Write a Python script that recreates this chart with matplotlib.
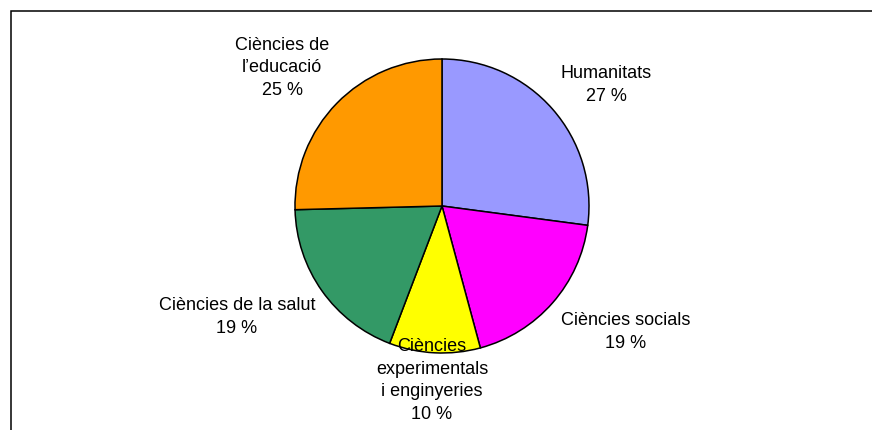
import matplotlib
matplotlib.use("Agg")
import matplotlib.pyplot as plt
from matplotlib.patches import Rectangle

plt.rcParams['font.family'] = ['Liberation Sans', 'DejaVu Sans']

# data (wedge shares; labels show them rounded)
areas = ["Humanitats", "Ciències socials", "Ciències\nexperimentals\ni enginyeries",
         "Ciències de la salut", "Ciències de\nl\u2019educació"]
shares = [27.1, 18.7, 10.0, 18.8, 25.4]
colors = ["#9999FF", "#FF00FF", "#FFFF00", "#339966", "#FF9900"]

# label anchor (pixel x of centre, pixel y of last baseline)
label_px = [(606, 101), (626, 348), (432, 419), (237, 333), (282, 95)]

W, H = 872, 430
fig = plt.figure(figsize=(W / 100, H / 100), dpi=100)

# outer frame (clipped on right and bottom like the original)
fig.patches.append(Rectangle((11 / W, -0.1), 1.2, (H - 11) / H + 0.1,
                             transform=fig.transFigure, fill=False,
                             edgecolor="black", linewidth=1.1))

cx, cy, r = 442, 206, 147
ax = fig.add_axes([(cx - r) / W, (H - cy - r) / H, 2 * r / W, 2 * r / H])
ax.pie(shares, colors=colors, startangle=90, counterclock=False,
       wedgeprops=dict(edgecolor="black", linewidth=1.1))
ax.set_xlim(-1, 1)
ax.set_ylim(-1, 1)
ax.axis("off")

for name, val, (x, y) in zip(areas, shares, label_px):
    fig.text(x / W, 1 - y / H, f"{name}\n{val:.0f} %", ha="center", va="baseline",
             multialignment="center", fontsize=13, linespacing=1.43, color="black")

fig.savefig("out.png", dpi=100)
